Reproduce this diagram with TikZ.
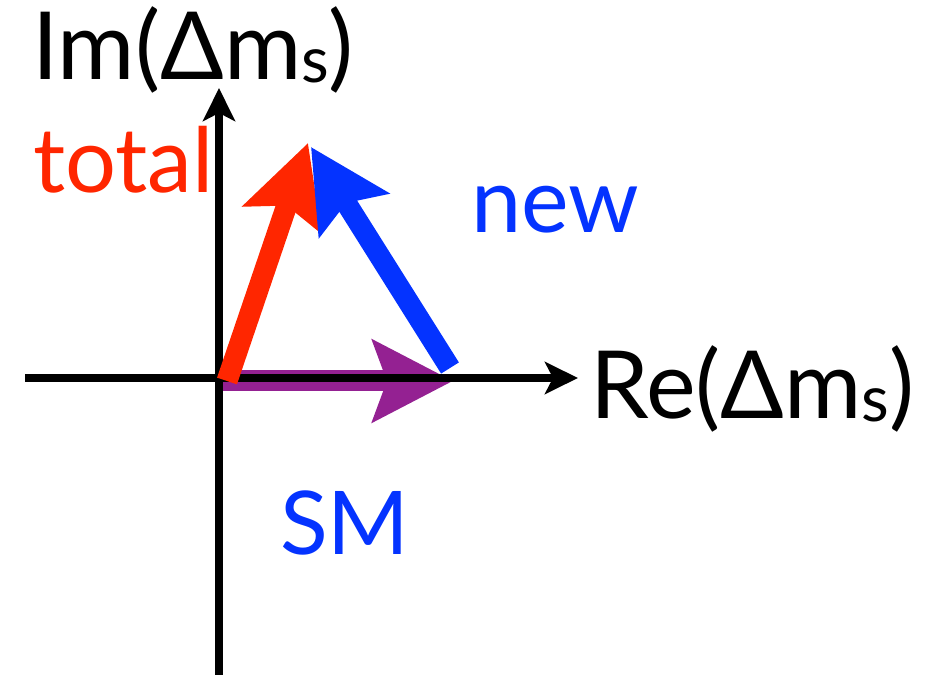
\documentclass[tikz,border=0pt]{standalone}
\usepackage{fontspec}
\setmainfont{Lato}
\usetikzlibrary{arrows.meta}
\definecolor{vecred}{HTML}{FF2600}
\definecolor{vecblue}{HTML}{0433FF}
\definecolor{vecpurple}{HTML}{942192}
\newcommand{\dmsub}{Δm\raisebox{-0.03em}{\scalebox{0.68}{s}}}

\begin{document}
\begin{tikzpicture}[
  x=1pt, y=1pt,
  axis/.style={line width=7.5pt, -{Stealth[length=33pt,width=32pt,inset=8pt]}},
  vec/.style={line width=21pt, -{Stealth[length=80pt,width=81pt,inset=14pt]}},
  lbl/.style={inner sep=0pt, anchor=base west},
]
  \useasboundingbox (0,0) rectangle (938,675);

  %% -- coordinates --
  \coordinate (xstart) at (25,297);
  \coordinate (xend)   at (578,297);
  \coordinate (ystart) at (219,0);
  \coordinate (yend)   at (219,587);
  \coordinate (smtail)  at (222,294);
  \coordinate (smtip)   at (453,294);
  \coordinate (tottail) at (227,294);
  \coordinate (tottip)  at (308,532);
  \coordinate (newtail) at (450,307);
  \coordinate (newtip)  at (311,528);

  %% -- vectors and axes --
  \draw[vec, vecpurple] (smtail) -- (smtip);
  \draw[axis] (xstart) -- (xend);
  \draw[axis] (ystart) -- (yend);
  \draw[vec, vecred]  (tottail) -- (tottip);
  \draw[vec, vecblue] (newtail) -- (newtip);

  %% -- labels --
  \node[lbl, font=\fontsize{94}{94}\selectfont] (imlabel) at (32,595) {Im(\dmsub)};
  \node[lbl, font=\fontsize{94}{94}\selectfont] (relabel) at (590,256) {Re(\dmsub)};
  \node[lbl, font=\fontsize{90}{90}\selectfont, text=vecred]  (totallabel) at (33,482) {total};
  \node[lbl, font=\fontsize{90}{90}\selectfont, text=vecblue] (newlabel) at (471,442) {new};
  \node[lbl, font=\fontsize{88}{88}\selectfont, text=vecblue] (smlabel) at (280,120) {SM};
\end{tikzpicture}
\end{document}
